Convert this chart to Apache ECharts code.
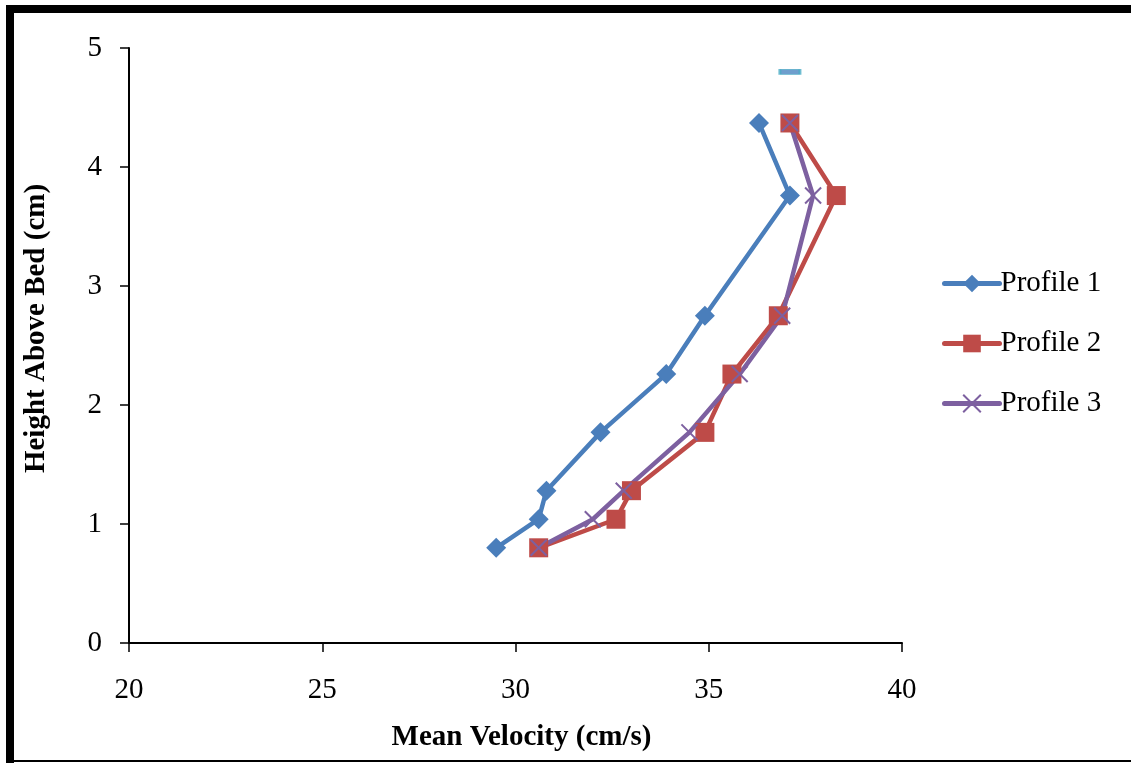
<!DOCTYPE html>
<html>
<head>
<meta charset="utf-8">
<script src="https://cdn.jsdelivr.net/npm/echarts@6/dist/echarts.min.js"></script>
<style>
  html, body { margin: 0; padding: 0; background: #fff; }
  #chart { width: 1131px; height: 763px; }
</style>
</head>
<body>
<div id="chart"></div>
<script>
// Velocity profiles: mean velocity (cm/s) against height above bed (cm)
const heights   = [0.80, 1.04, 1.28, 1.77, 2.26, 2.75, 3.76, 4.37];
const profile1V = [29.5, 30.6, 30.8, 32.2, 33.9, 34.9, 37.1, 36.3];
const profile2V = [30.6, 32.6, 33.0, 34.9, 35.6, 36.8, 38.3, 37.1];
const profile3V = [30.6, 32.0, 32.8, 34.5, 35.8, 36.9, 37.7, 37.1];
const surfaceV  = [37.1];
const surfaceH  = [4.8];

const seriesNames = ['Profile 1', 'Profile 2', 'Profile 3'];
const xTicks = { min: 20, max: 40, step: 5 };
const yTicks = { min: 0, max: 5, step: 1 };

const pairs = (xs, ys) => xs.map((x, i) => [x, ys[i]]);
const FONT = '"Liberation Serif", "Times New Roman", serif';

const chart = echarts.init(document.getElementById('chart'), null, { renderer: 'canvas' });

const crossPath = 'path://M0,0L10,10M10,0L0,10';

chart.setOption({
  backgroundColor: '#ffffff',
  animation: false,
  textStyle: { fontFamily: FONT, color: '#000' },
  grid: { left: 129, right: 229, top: 48, bottom: 120, containLabel: false },
  legend: {
    orient: 'vertical',
    left: 937,
    top: 264,
    itemWidth: 55,
    itemHeight: 22,
    itemGap: 31,
    lineStyle: { width: 5, cap: 'round' },
    textStyle: { fontFamily: FONT, fontSize: 29, color: '#000', padding: [0, 0, 0, -4] },
    data: seriesNames
  },
  xAxis: {
    type: 'value',
    min: xTicks.min, max: xTicks.max, interval: xTicks.step,
    name: 'Mean Velocity (cm/s)',
    nameLocation: 'middle',
    nameGap: 80,
    nameTextStyle: { fontFamily: FONT, fontSize: 29, fontWeight: 'bold', color: '#000', padding: [0, 0, 0, 12] },
    axisLine: { show: true, onZero: false, lineStyle: { color: '#000', width: 2 } },
    axisTick: { show: true, inside: false, length: 9, lineStyle: { color: '#000', width: 1.5 } },
    axisLabel: { fontFamily: FONT, fontSize: 29, color: '#000', margin: 33 },
    splitLine: { show: false }
  },
  yAxis: {
    type: 'value',
    min: yTicks.min, max: yTicks.max, interval: yTicks.step,
    name: 'Height Above Bed (cm)',
    nameLocation: 'middle',
    nameGap: 78,
    nameRotate: 90,
    nameTextStyle: { fontFamily: FONT, fontSize: 29, fontWeight: 'bold', color: '#000', padding: [0, 0, 0, 34] },
    axisLine: { show: true, onZero: false, lineStyle: { color: '#000', width: 2 } },
    axisTick: { show: true, inside: false, length: 9, lineStyle: { color: '#000', width: 1.5 } },
    axisLabel: { fontFamily: FONT, fontSize: 29, color: '#000', margin: 27 },
    splitLine: { show: false }
  },
  series: [
    {
      name: seriesNames[0],
      type: 'line',
      data: pairs(profile1V, heights),
      symbol: 'diamond',
      symbolSize: 20,
      lineStyle: { color: '#4A7EBB', width: 4.5 },
      itemStyle: { color: '#4A7EBB' }
    },
    {
      name: seriesNames[1],
      type: 'line',
      data: pairs(profile2V, heights),
      symbol: 'rect',
      symbolSize: 19,
      lineStyle: { color: '#BE4B48', width: 4.5 },
      itemStyle: { color: '#BE4B48' }
    },
    {
      name: seriesNames[2],
      type: 'line',
      data: pairs(profile3V, heights),
      symbol: crossPath,
      symbolSize: 16,
      lineStyle: { color: '#7D60A0', width: 4.5 },
      itemStyle: { color: '#7D60A0', borderColor: '#7D60A0', borderWidth: 2 }
    },
    {
      name: 'Surface',
      type: 'scatter',
      data: pairs(surfaceV, surfaceH),
      symbol: 'rect',
      symbolSize: [20, 5],
      itemStyle: { color: '#4A86C0', borderColor: '#4BACC6', borderWidth: 1.5 }
    }
  ],
  graphic: [
    { type: 'rect', left: 6, top: 5, shape: { width: 8, height: 758 }, style: { fill: '#000' } },
    { type: 'rect', left: 6, top: 5, shape: { width: 1125, height: 8 }, style: { fill: '#000' } },
    { type: 'rect', left: 6, top: 760, shape: { width: 1125, height: 2 }, style: { fill: '#000' } }
  ]
});
</script>
</body>
</html>
